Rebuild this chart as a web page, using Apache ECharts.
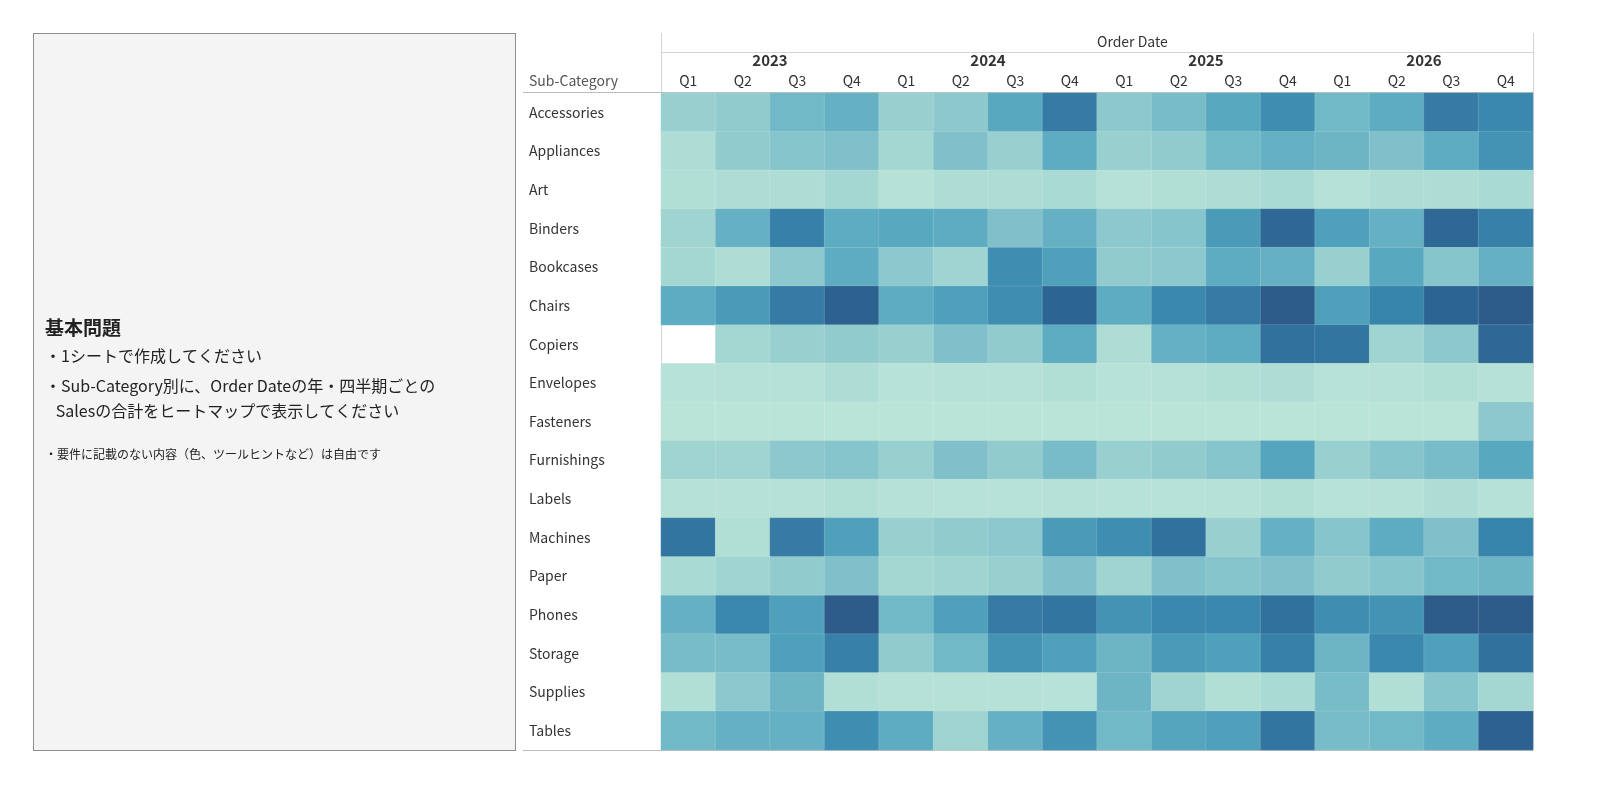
<!DOCTYPE html>
<html><head><meta charset="utf-8">
<script src="https://cdn.jsdelivr.net/npm/echarts@6/dist/echarts.min.js"></script>
<style>html,body{margin:0;background:#fff}#chart{width:1600px;height:800px}</style>
</head><body><div id="chart"></div>
<script>
const years = ['2023', '2024', '2025', '2026']
const quarters = ['Q1', 'Q2', 'Q3', 'Q4']
const subCategories = ['Accessories', 'Appliances', 'Art', 'Binders', 'Bookcases', 'Chairs', 'Copiers', 'Envelopes',
  'Fasteners', 'Furnishings', 'Labels', 'Machines', 'Paper', 'Phones', 'Storage', 'Supplies', 'Tables']
// relative sales level per sub-category, 16 quarters (2023Q1..2026Q4)
const accessories = [25, 28, 40, 45, 25, 30, 50, 75, 30, 38, 50, 65, 40, 48, 75, 68]
const appliances = [15, 28, 32, 35, 20, 35, 25, 48, 25, 28, 40, 45, 42, 35, 48, 62]
const art = [12, 15, 15, 20, 10, 15, 15, 18, 10, 12, 15, 18, 10, 15, 15, 18]
const binders = [22, 45, 72, 48, 50, 48, 35, 45, 30, 32, 58, 85, 55, 45, 85, 72]
const bookcases = [20, 15, 30, 48, 30, 22, 65, 55, 28, 30, 48, 45, 25, 50, 32, 45]
const chairs = [48, 58, 75, 90, 48, 55, 65, 88, 48, 68, 75, 95, 55, 70, 88, 95]
const copiers = [null, 20, 25, 28, 25, 35, 28, 48, 15, 45, 48, 80, 78, 22, 30, 85]
const envelopes = [8, 10, 10, 15, 8, 10, 10, 12, 8, 10, 12, 15, 8, 10, 12, 10]
const fasteners = [5, 5, 5, 5, 5, 5, 5, 5, 5, 5, 5, 5, 5, 5, 5, 30]
const furnishings = [22, 22, 30, 32, 25, 35, 28, 38, 25, 28, 32, 52, 25, 32, 38, 50]
const labels = [10, 10, 10, 12, 10, 8, 8, 10, 8, 8, 10, 12, 8, 10, 15, 10]
const machines = [78, 12, 75, 55, 25, 28, 30, 58, 65, 80, 25, 45, 32, 48, 35, 70]
const paper = [18, 22, 28, 35, 20, 22, 25, 35, 22, 35, 32, 35, 28, 32, 40, 42]
const phones = [45, 68, 55, 95, 40, 55, 75, 78, 62, 68, 68, 80, 65, 62, 95, 95]
const storage = [38, 38, 55, 72, 28, 40, 62, 55, 42, 58, 55, 72, 42, 68, 55, 80]
const supplies = [12, 30, 42, 12, 10, 10, 10, 8, 42, 22, 12, 18, 38, 12, 32, 20]
const tables = [40, 45, 45, 65, 48, 22, 45, 62, 40, 52, 55, 78, 38, 40, 48, 90]
const rows = [accessories, appliances, art, binders, bookcases, chairs, copiers, envelopes, fasteners,
  furnishings, labels, machines, paper, phones, storage, supplies, tables]

const xCats = []
years.forEach(y => quarters.forEach(q => xCats.push(y + ' ' + q)))
const data = []
rows.forEach((r, i) => r.forEach((v, j) => { if (v !== null) data.push([j, i, v]) }))

const chart = echarts.init(document.getElementById('chart'))
const font = '"Noto Sans CJK JP", "Noto Sans", sans-serif'
chart.setOption({
  textStyle: { fontFamily: font },
  grid: { left: 661, right: 67, top: 93, bottom: 50 },
  visualMap: { show: false, min: 0, max: 100, dimension: 2,
    inRange: { color: ['#c2e8d9', '#acdcd4', '#84c3cb', '#58a9c0', '#3b8bb0', '#2e6b98', '#2c5584'] } },
  xAxis: [
    { type: 'category', data: xCats, position: 'top', axisTick: { show: false },
      axisLine: { show: false }, splitLine: { show: false },
      axisLabel: { formatter: v => v.split(' ')[1], fontSize: 14, color: '#333', margin: 5 } },
    { type: 'category', data: years, position: 'top', offset: 20, axisTick: { show: false },
      axisLine: { show: false },
      splitLine: { show: true, lineStyle: { color: '#d4d4d4', width: 1 } },
      axisLabel: { fontSize: 15, fontWeight: 'bold', color: '#333', margin: 5 } }
  ],
  yAxis: { type: 'category', data: subCategories, inverse: true, axisTick: { show: false },
    axisLine: { show: false },
    axisLabel: { align: 'left', margin: 132, fontSize: 14, color: '#333' } },
  series: [{ type: 'heatmap', data: data, xAxisIndex: 0,
    itemStyle: { borderColor: 'rgba(255,255,255,0.25)', borderWidth: 0.5 } }],
  graphic: [
    { type: 'rect', shape: { x: 33.5, y: 33.5, width: 482, height: 717 },
      style: { fill: '#f4f4f4', stroke: '#222', lineWidth: 1, lineDash: [1, 1] } },
    { type: 'text', left: 45, top: 318, style: { text: '基本問題', font: 'bold 19px ' + font, fill: '#222' } },
    { type: 'text', left: 45, top: 348, style: { text: '・1シートで作成してください', font: '16px ' + font, fill: '#222' } },
    { type: 'text', left: 45, top: 378, style: { text: '・Sub-Category別に、Order Dateの年・四半期ごとの', font: '16px ' + font, fill: '#222' } },
    { type: 'text', left: 45, top: 403, style: { text: '   Salesの合計をヒートマップで表示してください', font: '16px ' + font, fill: '#222' } },
    { type: 'text', left: 45, top: 448, style: { text: '・要件に記載のない内容（色、ツールヒントなど）は自由です', font: '12px ' + font, fill: '#222' } },
    { type: 'text', left: 529, top: 74, style: { text: 'Sub-Category', font: '14px ' + font, fill: '#555' } },
    { type: 'text', left: 1097, top: 35, style: { text: 'Order Date', font: '14px ' + font, fill: '#333', textAlign: 'center' } },
    { type: 'line', shape: { x1: 661.5, y1: 33, x2: 661.5, y2: 750 }, style: { stroke: '#d4d4d4' } },
    { type: 'line', shape: { x1: 1533.5, y1: 33, x2: 1533.5, y2: 750 }, style: { stroke: '#d4d4d4' } },
    { type: 'line', shape: { x1: 661, y1: 52.5, x2: 1533, y2: 52.5 }, style: { stroke: '#d4d4d4' } },
    { type: 'line', shape: { x1: 523, y1: 92.5, x2: 1533, y2: 92.5 }, style: { stroke: '#bbb' } },
    { type: 'line', shape: { x1: 523, y1: 750.5, x2: 1533, y2: 750.5 }, style: { stroke: '#bbb' } }
  ]
})
</script></body></html>
